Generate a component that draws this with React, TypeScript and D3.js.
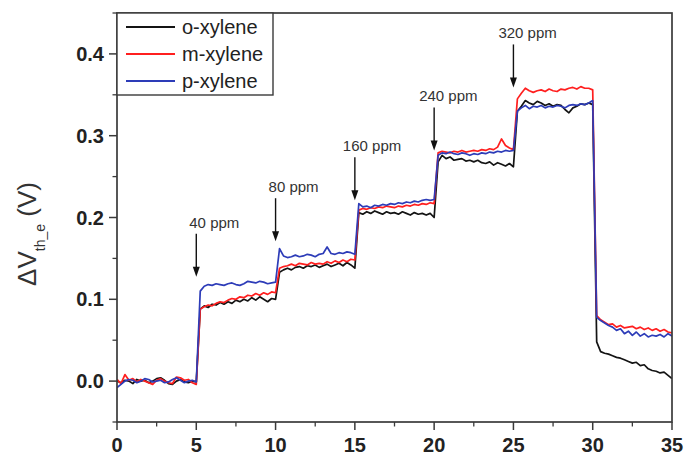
import React from "react";
import * as d3 from "d3";

const W = 684;
const H = 455;

// sampling grid (s)
const times: number[] = d3.range(0, 35.001, 0.25);

const oXylene: number[] = [
  0.000, -0.002, 0.001, 0.000, -0.003, 0.002, 0.000, 0.001, -0.002, 0.000, 0.003, 0.004, 0.001, -0.003, -0.004, 0.000, 0.002, -0.001, -0.002, 0.000, -0.001,
  0.088, 0.092, 0.090, 0.094, 0.093, 0.096, 0.094, 0.097, 0.095, 0.099, 0.097, 0.100, 0.098, 0.102, 0.099, 0.103, 0.100, 0.097, 0.101, 0.100,
  0.133, 0.136, 0.138, 0.136, 0.139, 0.140, 0.138, 0.141, 0.140, 0.142, 0.139, 0.141, 0.143, 0.140, 0.142, 0.144, 0.141, 0.145, 0.142, 0.138,
  0.206, 0.204, 0.207, 0.205, 0.208, 0.206, 0.204, 0.207, 0.205, 0.206, 0.204, 0.207, 0.205, 0.203, 0.206, 0.204, 0.205, 0.203, 0.205, 0.200,
  0.268, 0.276, 0.272, 0.274, 0.270, 0.271, 0.272, 0.269, 0.270, 0.268, 0.270, 0.267, 0.266, 0.268, 0.264, 0.267, 0.265, 0.263, 0.266, 0.262,
  0.330, 0.336, 0.343, 0.340, 0.338, 0.342, 0.340, 0.337, 0.339, 0.336, 0.338, 0.337, 0.332, 0.328, 0.334, 0.336, 0.339, 0.338, 0.340, 0.338,
  0.048, 0.036, 0.034, 0.033, 0.031, 0.029, 0.028, 0.026, 0.024, 0.022, 0.023, 0.019, 0.020, 0.015, 0.013, 0.012, 0.010, 0.011, 0.007, 0.003,
];

const mXylene: number[] = [
  0.002, -0.003, 0.008, 0.001, 0.003, -0.001, 0.002, 0.000, -0.002, -0.004, 0.001, 0.003, 0.000, -0.002, -0.003, 0.005, 0.004, 0.001, 0.002, -0.002, -0.004,
  0.088, 0.091, 0.093, 0.092, 0.095, 0.097, 0.096, 0.099, 0.101, 0.100, 0.103, 0.102, 0.105, 0.104, 0.107, 0.105, 0.108, 0.106, 0.109, 0.108,
  0.138, 0.140, 0.141, 0.143, 0.141, 0.144, 0.143, 0.142, 0.145, 0.143, 0.144, 0.143, 0.146, 0.144, 0.147, 0.145, 0.148, 0.146, 0.149, 0.148,
  0.209, 0.211, 0.210, 0.212, 0.211, 0.213, 0.212, 0.214, 0.213, 0.212, 0.214, 0.213, 0.215, 0.214, 0.216, 0.215, 0.217, 0.216, 0.218, 0.217,
  0.279, 0.281, 0.280, 0.279, 0.281, 0.280, 0.282, 0.280, 0.281, 0.282, 0.281, 0.283, 0.282, 0.284, 0.283, 0.286, 0.296, 0.288, 0.285, 0.283,
  0.345, 0.352, 0.358, 0.355, 0.353, 0.355, 0.356, 0.354, 0.357, 0.355, 0.354, 0.357, 0.356, 0.358, 0.359, 0.357, 0.360, 0.358, 0.358, 0.356,
  0.080, 0.075, 0.072, 0.069, 0.070, 0.066, 0.068, 0.065, 0.066, 0.067, 0.064, 0.066, 0.063, 0.065, 0.062, 0.064, 0.061, 0.063, 0.060, 0.059,
];

const pXylene: number[] = [
  -0.008, -0.004, 0.000, 0.002, 0.001, -0.002, 0.000, 0.003, 0.002, -0.001, 0.000, 0.001, -0.002, -0.001, 0.002, 0.004, 0.001, -0.002, 0.000, 0.001, -0.001,
  0.110, 0.116, 0.118, 0.117, 0.119, 0.118, 0.117, 0.119, 0.120, 0.118, 0.117, 0.119, 0.122, 0.121, 0.120, 0.122, 0.121, 0.119, 0.120, 0.121,
  0.162, 0.153, 0.151, 0.152, 0.154, 0.152, 0.153, 0.155, 0.154, 0.152, 0.155, 0.156, 0.164, 0.156, 0.155, 0.157, 0.156, 0.158, 0.157, 0.155,
  0.217, 0.213, 0.214, 0.212, 0.215, 0.214, 0.216, 0.215, 0.217, 0.216, 0.218, 0.217, 0.219, 0.218, 0.220, 0.219, 0.221, 0.222, 0.221, 0.222,
  0.276, 0.279, 0.278, 0.280, 0.278, 0.277, 0.279, 0.278, 0.276, 0.278, 0.277, 0.279, 0.278, 0.280, 0.279, 0.281, 0.280, 0.282, 0.281, 0.282,
  0.330, 0.334, 0.337, 0.333, 0.336, 0.335, 0.337, 0.334, 0.336, 0.335, 0.337, 0.336, 0.334, 0.337, 0.338, 0.337, 0.339, 0.338, 0.340, 0.343,
  0.078, 0.074, 0.071, 0.068, 0.066, 0.062, 0.064, 0.058, 0.061, 0.056, 0.060, 0.055, 0.058, 0.054, 0.056, 0.055, 0.057, 0.054, 0.058, 0.055,
];

const seriesNames = ["o-xylene", "m-xylene", "p-xylene"];
const seriesValues = [oXylene, mXylene, pXylene];
const seriesColors = ["#141414", "#ff1f1f", "#2d3cb8"];

const xTicks = [0, 5, 10, 15, 20, 25, 30, 35];
const xMinorTicks = [2.5, 7.5, 12.5, 17.5, 22.5, 27.5, 32.5];
const yTicks = [0.0, 0.1, 0.2, 0.3, 0.4];
const yMinorTicks = [-0.05, 0.05, 0.15, 0.25, 0.35, 0.45];

const annTimes = [5, 10, 15, 20, 25];
const annLabels = ["40 ppm", "80 ppm", "160 ppm", "240 ppm", "320 ppm"];
const annTipValues = [0.1275, 0.171, 0.221, 0.282, 0.359];
const annLabelDx = [-7, -7, -12, -15, -15];

const L = 117, R = 672, T = 13, B = 422;

export default function App() {
  const x = d3.scaleLinear().domain([0, 35]).range([L, R]);
  const y = d3.scaleLinear().domain([-0.05, 0.45]).range([B, T]);
  const line = d3
    .line<number>()
    .x((_, i) => x(times[i]))
    .y((d) => y(d));

  const font = "Arial, 'Liberation Sans', Helvetica, sans-serif";
  const arrowLen = 43;

  return (
    <svg
      width={W}
      height={H}
      style={{ position: "absolute", left: 0, top: 0, background: "#fff" }}
      fontFamily={font}
    >
      <rect x={0} y={0} width={W} height={H} fill="#fff" />
      <defs>
        <clipPath id="plot">
          <rect x={L} y={T} width={R - L} height={B - T} />
        </clipPath>
      </defs>

      {/* series */}
      <g clipPath="url(#plot)">
        {seriesValues.map((vals, k) => (
          <path
            key={k}
            d={line(vals) || ""}
            fill="none"
            stroke={seriesColors[k]}
            strokeWidth={1.7}
            strokeLinejoin="round"
          />
        ))}
      </g>

      {/* frame */}
      <rect x={L} y={T} width={R - L} height={B - T} fill="none" stroke="#3a3a3a" strokeWidth={1.7} />

      {/* x ticks */}
      {xTicks.map((t) => (
        <g key={"xt" + t}>
          <line x1={x(t)} x2={x(t)} y1={B} y2={B + 8} stroke="#3a3a3a" strokeWidth={1.5} />
          <text x={x(t)} y={452} textAnchor="middle" fontSize={20} fontWeight="bold" fill="#222">
            {t}
          </text>
        </g>
      ))}
      {xMinorTicks.map((t) => (
        <line key={"xm" + t} x1={x(t)} x2={x(t)} y1={B} y2={B + 4.5} stroke="#3a3a3a" strokeWidth={1.3} />
      ))}

      {/* y ticks */}
      {yTicks.map((v) => (
        <g key={"yt" + v}>
          <line x1={L - 8} x2={L} y1={y(v)} y2={y(v)} stroke="#3a3a3a" strokeWidth={1.5} />
          <text x={L - 13} y={y(v) + 7} textAnchor="end" fontSize={20} fontWeight="bold" fill="#222">
            {v.toFixed(1)}
          </text>
        </g>
      ))}
      {yMinorTicks.map((v) => (
        <line key={"ym" + v} x1={L - 4.5} x2={L} y1={y(v)} y2={y(v)} stroke="#3a3a3a" strokeWidth={1.3} />
      ))}

      {/* y label */}
      <text transform="translate(36,234) rotate(-90)" textAnchor="middle" fontSize={26} fill="#333">
        ΔV
        <tspan fontSize={14} dy={9}>th_e</tspan>
        <tspan dy={-9}> (V)</tspan>
      </text>

      {/* annotations */}
      {annTimes.map((t, i) => {
        const ax = x(t);
        const tip = y(annTipValues[i]);
        const top = tip - arrowLen;
        return (
          <g key={"ann" + i}>
            <line x1={ax} x2={ax} y1={top} y2={tip - 8} stroke="#111" strokeWidth={1.4} />
            <path d={`M${ax - 3.5},${tip - 10} L${ax + 3.5},${tip - 10} L${ax},${tip} Z`} fill="#111" />
            <text x={ax + annLabelDx[i]} y={top - 6} fontSize={15} fill="#333">
              {annLabels[i]}
            </text>
          </g>
        );
      })}

      {/* legend */}
      <rect x={L} y={T} width={156} height={82} fill="#fff" stroke="#3a3a3a" strokeWidth={1.4} />
      {seriesNames.map((name, k) => {
        const ly = 27 + k * 27;
        return (
          <g key={"lg" + k}>
            <line x1={126} x2={175} y1={ly} y2={ly} stroke={seriesColors[k]} strokeWidth={1.8} />
            <text x={182} y={ly + 7} fontSize={20} fill="#222">
              {name}
            </text>
          </g>
        );
      })}
    </svg>
  );
}
